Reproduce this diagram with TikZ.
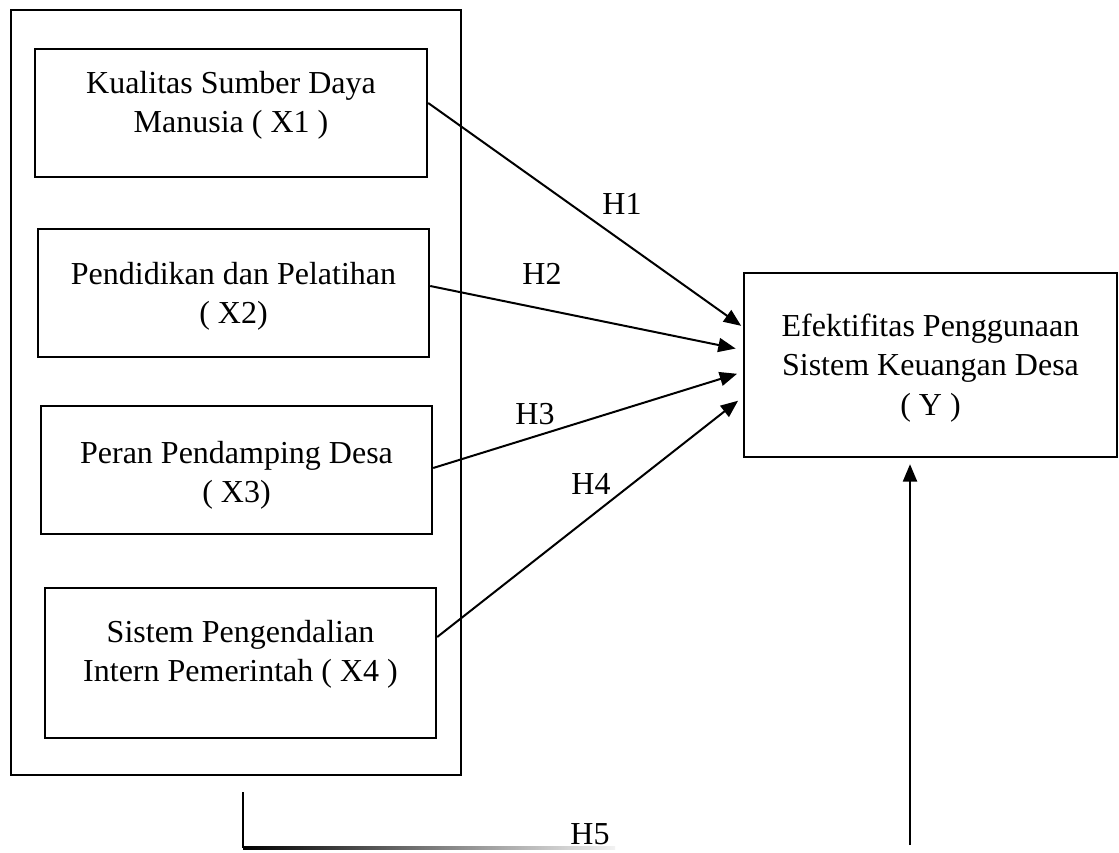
\documentclass[tikz,border=0pt]{standalone}
\usepackage{fontspec}
\setmainfont{Liberation Serif}
\usetikzlibrary{arrows.meta, calc, positioning}
\tikzset{
    varBox/.style={rectangle, draw, line width=1.8pt, inner sep=0pt},
    varText/.style={align=center, inner sep=0pt, font=\fontsize{24pt}{29.5pt}\selectfont},
    hypEdge/.style={-{Triangle[length=13pt, width=10.5pt]}, line width=1.5pt},
    hypLabel/.style={inner sep=0pt, font=\fontsize{24pt}{29.5pt}\selectfont},
}
\newcommand{\drawHyp}[5]{
    \draw[hypEdge, shorten >=#5] ([yshift=#2]#1.east) -- ([yshift=#4]#3.west);
}

\begin{document}
\begin{tikzpicture}[x=0.75pt, y=-0.75pt]
    \useasboundingbox (0,0) rectangle (1119,852);

    % independent variables
    \node[varBox, minimum width=337.5pt, minimum height=573.75pt] (frame) at (236,392.5) {};
    \node[varBox, minimum width=294pt, minimum height=96pt,
        label={[varText, yshift=6pt]center:Kualitas Sumber Daya\\Manusia ( X1 )}] (X1) at (231,113) {};
    \node[varBox, minimum width=293.25pt, minimum height=96pt,
        label={[varText, yshift=-2.7pt]center:Pendidikan dan Pelatihan\\( X2)}] (X2) at (233.5,293) {};
    \node[varBox, minimum width=293.25pt, minimum height=96pt,
        label={[varText, yshift=-4.2pt]center:Peran Pendamping Desa\\( X3)}] (X3) at (236.5,470) {};
    \node[varBox, minimum width=293.25pt, minimum height=112.5pt,
        label={[varText, yshift=6.75pt]center:Sistem Pengendalian\\Intern Pemerintah ( X4 )}] (X4) at (240.5,663) {};

    % dependent variable
    \node[varBox, minimum width=279.75pt, minimum height=138pt,
        label={[varText, yshift=-2.25pt]center:Efektifitas Penggunaan\\Sistem Keuangan Desa\\( Y )}] (Y) at (930.5,365) {};

    \drawHyp{X1}{7.5pt}{Y}{28.5pt}{1.5pt}
    \drawHyp{X2}{5.25pt}{Y}{11.25pt}{5.5pt}
    \drawHyp{X3}{1.5pt}{Y}{-5.25pt}{4.5pt}
    \drawHyp{X4}{19.5pt}{Y}{-24pt}{4.5pt}

    \node[hypLabel] (H1) at (622,204) {H1};
    \node[hypLabel] (H2) at (542,274) {H2};
    \node[hypLabel] (H3) at (535,414) {H3};
    \node[hypLabel] (H4) at (591,484) {H4};
    \node[hypLabel] (H5) at (590,834) {H5};

    % simultaneous path
    \coordinate (h5top) at (243,792);
    \coordinate (h5bend) at (243,848);
    \coordinate (h5end) at (615,848);
    \coordinate (h5start) at (910,845);
    \draw[line width=1.5pt] (h5top) -- (h5bend);
    \shade[left color=black, middle color=black!85, right color=black!5] ($(h5bend)+(0,-1.5)$) rectangle ($(h5end)+(0,1.5)$);
    \draw[hypEdge, shorten >=4.5pt] (h5start) -- (h5start |- Y.south);

\end{tikzpicture}
\end{document}
